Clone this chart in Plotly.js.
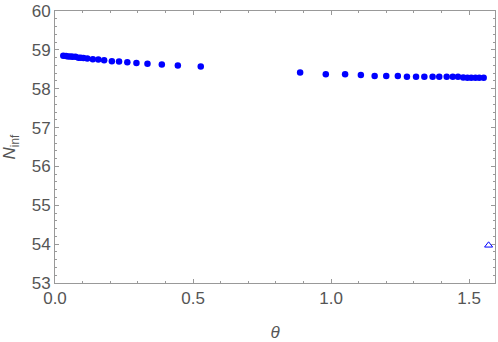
<!DOCTYPE html>
<html>
<head>
<meta charset="utf-8">
<script src="https://cdn.plot.ly/plotly-3.0.1.min.js"></script>
<style>
  html, body { margin: 0; padding: 0; background: #fff; }
  #chart { width: 498px; height: 342px; }
</style>
</head>
<body>
<div id="chart"></div>
<script>
const theta = [0.030, 0.040, 0.048, 0.057, 0.064, 0.074, 0.085, 0.093, 0.103, 0.117,
               0.137, 0.157, 0.178, 0.206, 0.232, 0.262, 0.295, 0.335, 0.387, 0.445, 0.528,
               0.888, 0.981, 1.051, 1.108, 1.158, 1.200, 1.242, 1.275, 1.308, 1.338,
               1.368, 1.392, 1.419, 1.441, 1.460, 1.479, 1.494, 1.508, 1.523, 1.537, 1.553];
const nInf = [58.85, 58.84, 58.83, 58.83, 58.82, 58.82, 58.80, 58.80, 58.79, 58.78,
              58.76, 58.75, 58.73, 58.71, 58.70, 58.68, 58.66, 58.64, 58.62, 58.60, 58.57,
              58.42, 58.37, 58.37, 58.35, 58.33, 58.33, 58.33, 58.31, 58.31, 58.31,
              58.31, 58.31, 58.31, 58.31, 58.31, 58.29, 58.28, 58.28, 58.28, 58.28, 58.28];
const limitTheta = [1.5708];
const limitN = [53.97];

const yTicks = [53, 54, 55, 56, 57, 58, 59, 60];
const xTicks = [0, 0.5, 1.0, 1.5];
const xTickText = ['0.0', '0.5', '1.0', '1.5'];

const grey = '#555555';
const axisLine = '#999999';

const points = {
    x: theta,
    y: nInf,
    mode: 'markers',
    type: 'scatter',
    marker: { color: '#0000ff', size: 6.5 },
    hoverinfo: 'x+y'
};

const limit = {
    x: limitTheta,
    y: limitN,
    mode: 'markers',
    type: 'scatter',
    marker: { symbol: 'triangle-up-open', color: '#0000ff', size: 7, line: { width: 1 } }
};

const layout = {
    width: 498,
    height: 342,
    margin: { l: 55, r: 3, t: 11, b: 59 },
    paper_bgcolor: '#ffffff',
    plot_bgcolor: '#ffffff',
    showlegend: false,
    font: { family: 'Liberation Sans, Arial, sans-serif', color: grey, size: 16 },
    xaxis: {
        range: [0, 1.594],
        tickvals: xTicks,
        ticktext: xTickText,
        ticks: 'inside',
        ticklen: 4,
        tickcolor: axisLine,
        showline: true,
        linecolor: axisLine,
        linewidth: 1,
        mirror: 'allticks',
        showgrid: false,
        zeroline: false,
        minor: { dtick: 0.1, ticks: 'inside', ticklen: 2, tickcolor: axisLine },
        tickfont: { size: 17, color: grey },
        title: { text: '<i>θ</i>', font: { size: 17, color: grey }, standoff: 18 }
    },
    yaxis: {
        range: [53, 60],
        tickvals: yTicks,
        ticks: 'inside',
        ticklen: 4,
        tickcolor: axisLine,
        showline: true,
        linecolor: axisLine,
        linewidth: 1,
        mirror: 'allticks',
        showgrid: false,
        zeroline: false,
        minor: { dtick: 0.2, ticks: 'inside', ticklen: 2, tickcolor: axisLine },
        tickfont: { size: 17, color: grey },
        title: { text: '<i>N</i><sub>inf</sub>', font: { size: 17, color: grey }, standoff: 14 }
    }
};

Plotly.newPlot('chart', [points, limit], layout, { displayModeBar: false, staticPlot: true });
</script>
</body>
</html>
